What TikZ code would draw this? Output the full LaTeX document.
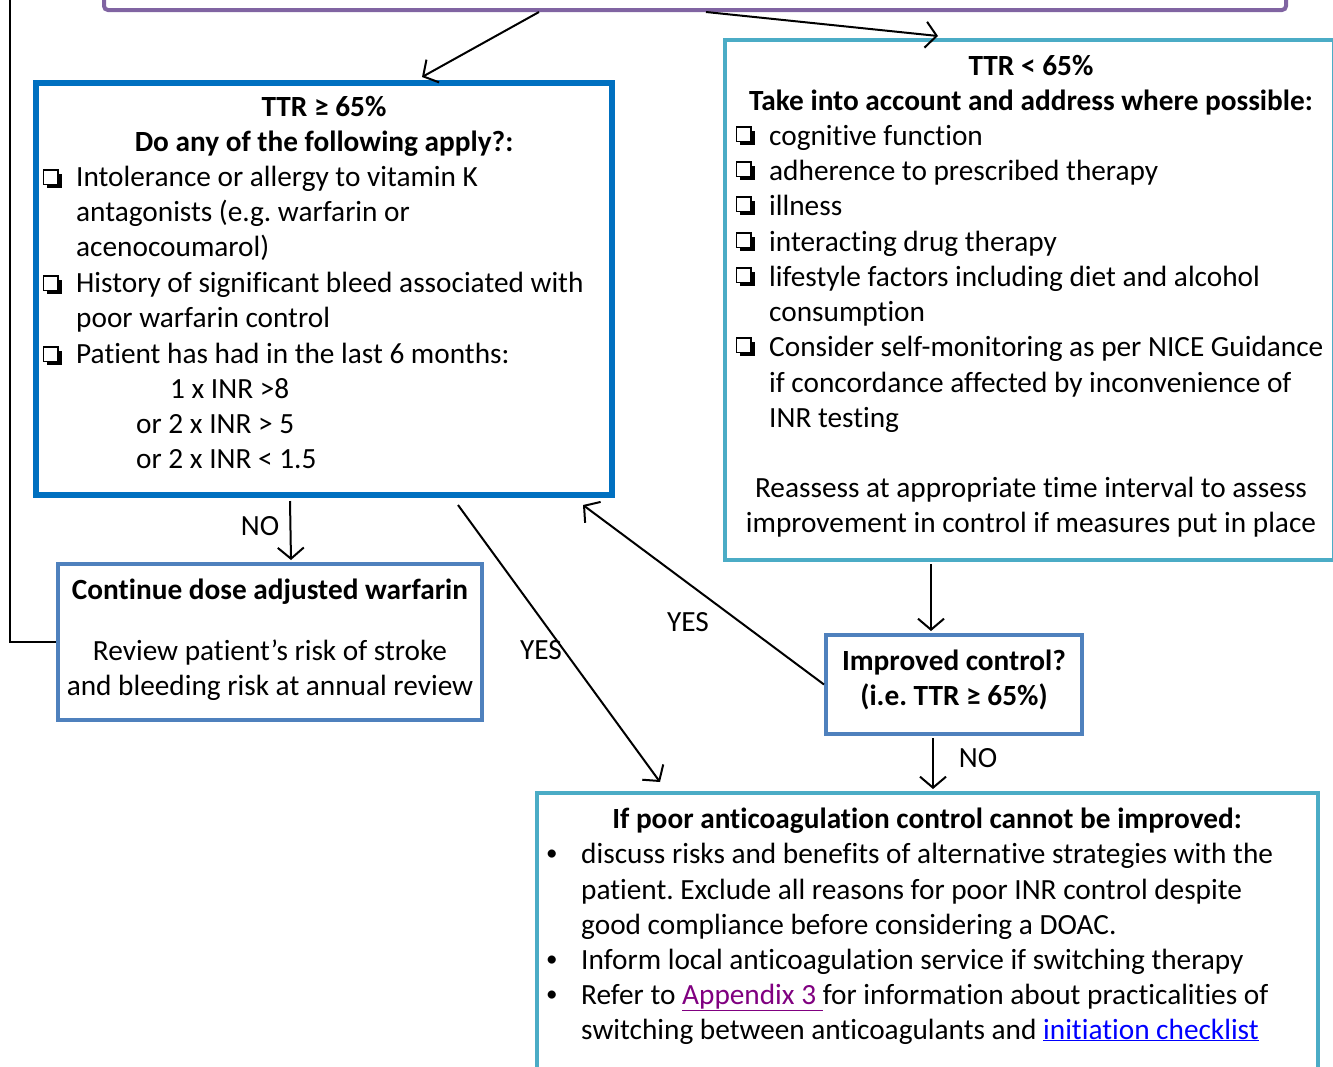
\documentclass[tikz,border=0pt]{standalone}
\usepackage{fontspec}
\setmainfont[Ligatures=NoCommon]{Carlito}
\usetikzlibrary{arrows.meta}
\frenchspacing
\definecolor{cPurple}{HTML}{8064A2}
\definecolor{cBlue}{HTML}{0070C0}
\definecolor{cTeal}{HTML}{4BACC6}
\definecolor{cSteel}{HTML}{4F81BD}
\definecolor{cLinkP}{HTML}{800080}
\definecolor{cLinkB}{HTML}{0000FF}
\newcommand{\bulletmark}{{\fontsize{23}{23}\selectfont\raisebox{3pt}{•}}}
\begin{document}
\begin{tikzpicture}[x=1pt,y=-1pt,
  box/.style={draw, rectangle, inner sep=0pt, fill=white},
  arr/.style={draw=black, line width=2pt, -{Straight Barb[length=11pt,width=26pt,line width=2pt]}},
  conn/.style={draw=black, line width=2pt},
  txt/.style={anchor=base west, inner sep=0pt, font=\fontsize{29.3}{35.2}\selectfont},
  ctxt/.style={anchor=base, inner sep=0pt, font=\fontsize{29.3}{35.2}\selectfont},
  btxt/.style={anchor=base, inner sep=0pt, font=\fontsize{29.3}{35.2}\selectfont\bfseries},
  chkbox/.pic={
    \fill[black] (4.5,-14.5) rectangle (19,0);
    \draw[black, line width=1.6pt, fill=white] (1,-18) rectangle (15.5,-3.5);
  },
]
\useasboundingbox (0,0) rectangle (1333,1066);
\clip (0,0) rectangle (1333,1066);

% boxes
\node[box, draw=cPurple, line width=4pt, rounded corners=4pt, minimum width=1182pt, minimum height=60pt] (top) at (695,-20) {};
\node[box, draw=cBlue, line width=6pt, minimum width=576pt, minimum height=412pt] (b1) at (324,289) {};
\node[box, draw=cTeal, line width=4pt, minimum width=609pt, minimum height=520pt] (teal) at (1029.5,300) {};
\node[box, draw=cSteel, line width=4pt, minimum width=424pt, minimum height=156pt] (cont) at (270,642) {};
\node[box, draw=cSteel, line width=4pt, minimum width=256pt, minimum height=99pt] (imp) at (954,684.5) {};
\node[box, draw=cTeal, line width=4pt, minimum width=781pt, minimum height=297pt] (bot) at (927.5,941.5) {};

% connectors
\draw[arr] ([xshift=437pt]top.south west) -- ([xshift=389pt,yshift=3pt]b1.north west);
\draw[arr] ([xshift=604pt]top.south west) -- ([xshift=215pt,yshift=2pt]teal.north west);
\draw[arr] ([xshift=257pt,yshift=-3pt]b1.south west) -- ([xshift=235pt,yshift=2pt]cont.north west);
\draw[arr] ([xshift=425pt,yshift=-7pt]b1.south west) -- ([xshift=125pt,yshift=9pt]bot.north west);
\draw[arr] (imp.west) -- ([xshift=-32pt,yshift=-7pt]b1.south east);
\draw[arr] ([xshift=208pt,yshift=-2pt]teal.south west) -- ([xshift=107pt,yshift=2pt]imp.north west);
\draw[arr] ([xshift=109pt,yshift=-2pt]imp.south west) -- ([xshift=398pt,yshift=2pt]bot.north west);
\coordinate (ltop) at (10,-20);
\draw[conn] (cont.west) -| (ltop);

% connector labels
\node[ctxt] (lno1) at (260,535) {NO};
\node[ctxt] (lyes1) at (541,659) {YES};
\node[ctxt] (lyes2) at (688,631) {YES};
\node[ctxt] (lno2) at (978,767) {NO};

% box 1 text
\node[btxt] (b1h1) at (324,116) {TTR ≥ 65\%};
\node[btxt] (b1h2) at (324,151) {Do any of the following apply?:};
\pic at (42.5,188) {chkbox};
\node[txt] (b1l1) at (76,186) {Intolerance or allergy to vitamin K};
\node[txt] (b1l2) at (76,221) {antagonists (e.g. warfarin or};
\node[txt] (b1l3) at (76,256) {acenocoumarol)};
\pic at (42.5,294) {chkbox};
\node[txt] (b1l4) at (76,292) {History of significant bleed associated with};
\node[txt] (b1l5) at (76,327) {poor warfarin control};
\pic at (42.5,365) {chkbox};
\node[txt] (b1l6) at (76,363) {Patient has had in the last 6 months:};
\node[txt] (b1l7) at (170,398) {1 x INR >8};
\node[txt] (b1l8) at (136,433) {or 2 x INR > 5};
\node[txt] (b1l9) at (136,468) {or 2 x INR < 1.5};

% teal box text
\node[btxt] (t1h1) at (1031,75) {TTR < 65\%};
\node[btxt] (t1h2) at (1031,110) {Take into account and address where possible:};
\pic at (735.5,145) {chkbox};
\node[txt] (tl1) at (769,145) {cognitive function};
\pic at (735.5,180) {chkbox};
\node[txt] (tl2) at (769,180) {adherence to prescribed therapy};
\pic at (735.5,215) {chkbox};
\node[txt] (tl3) at (769,215) {illness};
\pic at (735.5,251) {chkbox};
\node[txt] (tl4) at (769,251) {interacting drug therapy};
\pic at (735.5,286) {chkbox};
\node[txt] (tl5) at (769,286) {lifestyle factors including diet and alcohol};
\node[txt] (tl6) at (769,321) {consumption};
\pic at (735.5,356) {chkbox};
\node[txt] (tl7) at (769,356) {Consider self-monitoring as per NICE Guidance};
\node[txt] (tl8) at (769,392) {if concordance affected by inconvenience of};
\node[txt] (tl9) at (769,427) {INR testing};
\node[ctxt] (tl10) at (1031,497) {Reassess at appropriate time interval to assess};
\node[ctxt] (tl11) at (1031,532) {improvement in control if measures put in place};

% continue box text
\node[btxt] (ch) at (270,599) {Continue dose adjusted warfarin};
\node[ctxt] (cl1) at (270,660) {Review patient’s risk of stroke};
\node[ctxt] (cl2) at (270,695) {and bleeding risk at annual review};

% improved box text
\node[btxt] (ih1) at (954,670) {Improved control?};
\node[btxt] (ih2) at (954,705) {(i.e. TTR ≥ 65\%)};

% bottom box text
\node[btxt] (bh) at (927,828) {If poor anticoagulation control cannot be improved:};
\node[txt] (bb1) at (546,863) {\bulletmark};
\node[txt] (bl1) at (581,863) {discuss risks and benefits of alternative strategies with the};
\node[txt] (bl2) at (581,899) {patient. Exclude all reasons for poor INR control despite};
\node[txt] (bl3) at (581,934) {good compliance before considering a DOAC.};
\node[txt] (bb2) at (546,969) {\bulletmark};
\node[txt] (bl4) at (581,969) {Inform local anticoagulation service if switching therapy};
\node[txt] (bb3) at (546,1004) {\bulletmark};
\node[txt] (bl5) at (581,1004) {Refer to \textcolor{cLinkP}{\underline{Appendix 3\ }}for information about practicalities of};
\node[txt] (bl6) at (581,1039) {switching between anticoagulants and \textcolor{cLinkB}{\underline{initiation checklist}}};
\end{tikzpicture}
\end{document}
